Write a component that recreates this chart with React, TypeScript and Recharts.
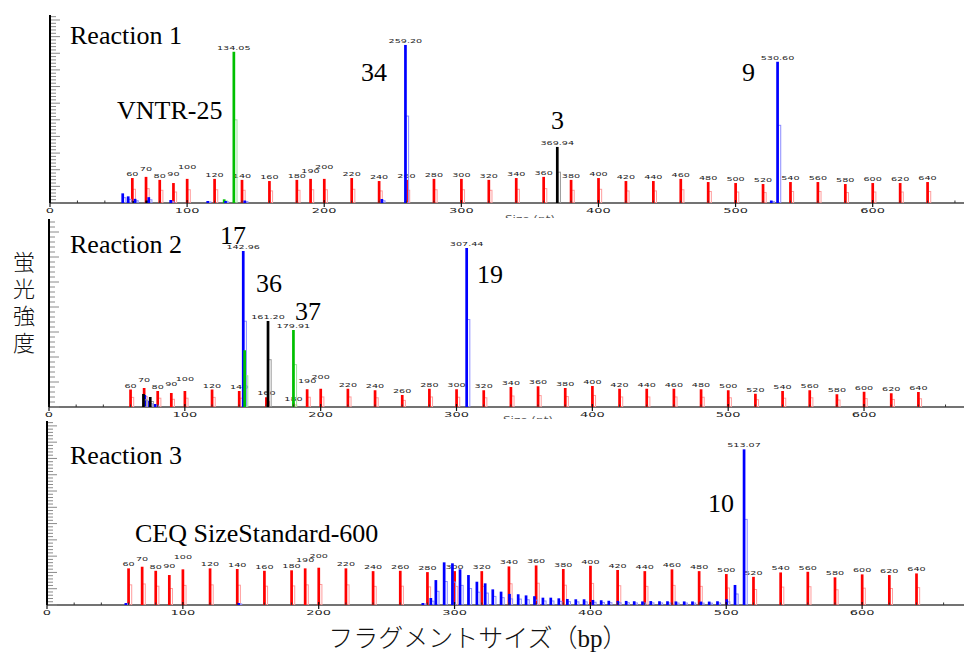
import React from 'react';
import { ScatterChart, Scatter, XAxis, YAxis } from 'recharts';

// ---- data ----
const SIZES = [60, 70, 80, 90, 100, 120, 140, 160, 180, 190, 200, 220, 240, 260, 280, 300, 320, 340, 360, 380, 400, 420, 440, 460, 480, 500, 520, 540, 560, 580, 600, 620, 640];
const X_TICKS = [0, 20, 40, 60, 80, 100, 120, 140, 160, 180, 200, 220, 240, 260, 280, 300, 320, 340, 360, 380, 400, 420, 440, 460, 480, 500, 520, 540, 560, 580, 600, 620, 640, 660];
const X_TICK_LABELS = [0, 100, 200, 300, 400, 500, 600];

// Reaction 1
const R1_RED = [15.0, 15.7, 13.9, 12.0, 14.5, 14.5, 13.9, 13.2, 13.9, 14.5, 14.5, 15.0, 13.2, 13.9, 14.5, 14.5, 13.9, 15.0, 15.7, 13.9, 15.0, 13.2, 13.2, 14.5, 12.6, 12.0, 11.4, 12.6, 12.6, 11.4, 12.0, 12.0, 12.6];
const R1_BLUE_X = [53, 57, 62, 72, 88, 115, 128, 142, 242, 259.2, 526, 530.6];
const R1_BLUE_Y = [5.8, 4.0, 2.5, 3.5, 1.8, 1.2, 1.2, 1.5, 2.4, 95.0, 1.5, 84.9];
const R1_BLUE_LABEL = ['', '', '', '', '', '', '', '', '', '259.20', '', '530.60'];
const R1_GREEN_X = [127, 134.05];
const R1_GREEN_Y = [2.2, 90.9];
const R1_GREEN_LABEL = ['', '134.05'];
const R1_BLACK_X = [61, 70.5, 369.94];
const R1_BLACK_Y = [1.2, 1.5, 33.7];
const R1_BLACK_LABEL = ['', '', '369.94'];

// Reaction 2
const R2_RED = [7.0, 7.6, 6.4, 5.6, 6.4, 7.0, 6.4, 3.9, 1.5, 7.1, 7.3, 7.3, 6.7, 4.8, 7.3, 7.1, 6.7, 8.0, 8.3, 7.6, 8.4, 7.3, 7.3, 7.3, 7.1, 6.7, 5.3, 6.4, 6.7, 5.1, 6.1, 5.5, 6.0];
const R2_BLUE_X = [70.5, 74, 78, 142.96, 307.44];
const R2_BLUE_Y = [4.8, 2.4, 1.2, 62.4, 63.6];
const R2_BLUE_LABEL = ['', '', '', '142.96', '307.44'];
const R2_GREEN_X = [144, 179.91];
const R2_GREEN_Y = [22.7, 30.8];
const R2_GREEN_LABEL = ['', '179.91'];
const R2_BLACK_X = [69.5, 74.5, 161.2];
const R2_BLACK_Y = [5.2, 4.0, 34.4];
const R2_BLACK_LABEL = ['', '', '161.20'];

// Reaction 3
const R3_RED = [22.5, 23.5, 21.0, 18.4, 21.9, 22.5, 22.1, 21.0, 21.3, 22.5, 22.9, 22.5, 20.8, 21.0, 20.2, 20.8, 20.8, 23.7, 24.3, 22.1, 24.1, 21.5, 20.8, 21.9, 20.8, 19.0, 17.3, 20.0, 20.4, 17.0, 18.8, 18.4, 19.4];
const R3_BLUE_X = [58, 141, 276.6, 282.5, 286.2, 292.3, 298.4, 304.0, 310.2, 316.4, 322.5, 328.1, 334.2, 340.4, 346.8, 352.6, 358.8, 365.0, 370.8, 376.7, 383.0, 389.2, 395.3, 401.8, 407.9, 413.5, 420.2, 426.3, 432.2, 438.3, 444.4, 450.8, 456.7, 462.9, 469.0, 475.1, 481.3, 487.4, 493.5, 500.3, 506.4, 513.07];
const R3_BLUE_Y = [1.2, 1.2, 1.2, 4.3, 15.3, 26.2, 25.6, 21.9, 18.4, 14.3, 13.3, 9.6, 8.2, 6.8, 6.6, 5.9, 5.4, 4.5, 4.5, 4.1, 3.7, 3.5, 3.5, 3.1, 2.9, 2.6, 2.5, 2.5, 2.3, 2.2, 2.4, 2.3, 2.3, 2.2, 2.2, 2.2, 2.1, 2.1, 2.3, 3.5, 12.3, 95.6];
const R3_BLUE_LABEL = R3_BLUE_X.map((x) => (x === 513.07 ? '513.07' : ''));

// label lifts for crowded size-standard labels (px)
const LABEL_LIFT: Record<number, number> = { 70: 4, 90: 5, 100: 8, 190: 4, 200: 8 };

type Pt = { x: number; y: number; label: string };
const zip = (xs: number[], ys: number[], labels?: string[]): Pt[] =>
  xs.map((x, i) => ({ x, y: ys[i], label: labels ? labels[i] : '' }));
const redPts = (ys: number[]): Pt[] => SIZES.map((s, i) => ({ x: s, y: ys[i], label: String(s) }));

const COLORS = {
  red: ['#ff0000', '#ff9d9d'],
  blue: ['#0000ff', '#8c8cff'],
  green: ['#00c000', '#9be39b'],
  black: ['#000000', '#9a9a9a'],
};

const WideText = ({ x, y, text, sx = 1.6, size = 6 }: { x: number; y: number; text: string; sx?: number; size?: number }) => (
  <text
    transform={`translate(${x},${y}) scale(${sx},1)`}
    textAnchor="middle"
    fontSize={size}
    fontFamily="DejaVu Sans"
    fill="#222"
  >
    {text}
  </text>
);

const peakShape = (base: number, color: string, light: string, isStd: boolean) => (props: any) => {
  const { cx, cy, payload } = props;
  if (typeof cx !== 'number' || typeof cy !== 'number') return <g />;
  const h = Math.max(base - cy, 0);
  const lift = isStd ? LABEL_LIFT[payload.x] || 0 : 0;
  return (
    <g>
      <rect x={cx + 0.6} y={cy + h * 0.45} width={2.6} height={h * 0.55} fill="none" stroke={light} strokeWidth={1} />
      <rect x={cx - 1.3} y={cy} width={2.7} height={h} fill={color} />
      {payload.label ? <WideText x={cx} y={cy - 2 - lift} text={payload.label} /> : null}
    </g>
  );
};

const XTick = (props: any) => {
  const { x, y, payload } = props;
  const v = payload.value;
  const major = X_TICK_LABELS.indexOf(v) >= 0;
  return (
    <g>
      {major ? (
        <line x1={x} x2={x} y1={y - 3} y2={y + 4} stroke="#111" strokeWidth={1.2} />
      ) : (
        <line x1={x} x2={x} y1={y - 2.5} y2={y} stroke="#333" strokeWidth={1} />
      )}
      {major ? <WideText x={x} y={y + 10} text={String(v)} sx={2} size={6.5} /> : null}
    </g>
  );
};

const YTick = (props: any) => {
  const { x, y, payload } = props;
  const major = payload.value % 10 === 0;
  return <line x1={x + 1} x2={x + (major ? 10 : 6)} y1={y} y2={y} stroke="#8a8a8a" strokeWidth={1} />;
};

type Series = { pts: Pt[]; color: keyof typeof COLORS; std?: boolean };

const Y_AXIS_W = 10;

const Panel = ({
  top, height, marginTop, left, xMax, yMax, xAxisHeight, series,
}: {
  top: number; height: number; marginTop: number; left: number; xMax: number; yMax: number; xAxisHeight: number; series: Series[];
}) => {
  const base = height - xAxisHeight;
  const yTicks = Array.from({ length: Math.floor(yMax / 2) + 1 }, (_, i) => i * 2);
  return (
    <div style={{ position: 'absolute', left: 0, top }}>
      <ScatterChart width={964} height={height} margin={{ top: marginTop, right: 0, bottom: 0, left: left - Y_AXIS_W }}>
        <XAxis
          type="number"
          dataKey="x"
          domain={[0, xMax]}
          allowDataOverflow
          ticks={X_TICKS}
          interval={0}
          tick={<XTick />}
          tickLine={false}
          tickSize={0}
          tickMargin={0}
          height={xAxisHeight}
          axisLine={{ stroke: '#444', strokeWidth: 1.3 }}
        />
        <YAxis
          type="number"
          dataKey="y"
          domain={[0, yMax]}
          allowDataOverflow
          ticks={yTicks}
          interval={0}
          tick={<YTick />}
          tickFormatter={() => ''}
          tickLine={false}
          tickSize={0}
          tickMargin={0}
          width={Y_AXIS_W}
          axisLine={{ stroke: '#000', strokeWidth: 2 }}
        />
        {series.map((s, i) => (
          <Scatter
            key={i}
            data={s.pts}
            isAnimationActive={false}
            shape={peakShape(base, COLORS[s.color][0], COLORS[s.color][1], !!s.std)}
          />
        ))}
      </ScatterChart>
    </div>
  );
};

const serif = "'Liberation Serif', 'Times New Roman', serif";
const jp = "'Liberation Serif', 'Noto Sans CJK JP', serif";
const Y_TITLE = ['蛍', '光', '強', '度'];

export default function App() {
  return (
    <div style={{ position: 'absolute', left: 0, top: 0, width: 964, height: 652, background: '#fff', overflow: 'hidden' }}>
      <Panel
        top={0} height={230} marginTop={15} left={50} xMax={666.6} yMax={113} xAxisHeight={27}
        series={[
          { pts: redPts(R1_RED), color: 'red', std: true },
          { pts: zip(R1_BLACK_X, R1_BLACK_Y, R1_BLACK_LABEL), color: 'black' },
          { pts: zip(R1_GREEN_X, R1_GREEN_Y, R1_GREEN_LABEL), color: 'green' },
          { pts: zip(R1_BLUE_X, R1_BLUE_Y, R1_BLUE_LABEL), color: 'blue' },
        ]}
      />
      <Panel
        top={200} height={230} marginTop={19} left={49} xMax={673.6} yMax={75.2} xAxisHeight={23}
        series={[
          { pts: redPts(R2_RED), color: 'red', std: true },
          { pts: zip(R2_BLUE_X, R2_BLUE_Y, R2_BLUE_LABEL), color: 'blue' },
          { pts: zip(R2_BLACK_X, R2_BLACK_Y, R2_BLACK_LABEL), color: 'black' },
          { pts: zip(R2_GREEN_X, R2_GREEN_Y, R2_GREEN_LABEL), color: 'green' },
        ]}
      />
      <Panel
        top={400} height={230} marginTop={21} left={47} xMax={675} yMax={113} xAxisHeight={25}
        series={[
          { pts: redPts(R3_RED), color: 'red', std: true },
          { pts: zip(R3_BLUE_X, R3_BLUE_Y, R3_BLUE_LABEL), color: 'blue' },
        ]}
      />
      <svg width={964} height={652} style={{ position: 'absolute', left: 0, top: 0, pointerEvents: 'none' }}>
        <defs>
          <clipPath id="cut1"><rect x={490} y={212} width={80} height={6} /></clipPath>
          <clipPath id="cut2"><rect x={490} y={413} width={80} height={6} /></clipPath>
        </defs>
        <g clipPath="url(#cut1)"><text x={530} y={222} textAnchor="middle" fontSize={8} fontFamily="DejaVu Sans" fill="#555" transform="translate(-265,0) scale(1.5,1)">Size (nt)</text></g>
        <g clipPath="url(#cut2)"><text x={528} y={423} textAnchor="middle" fontSize={8} fontFamily="DejaVu Sans" fill="#555" transform="translate(-264,0) scale(1.5,1)">Size (nt)</text></g>

        <g fontFamily={serif} fontSize={26} fill="#000">
          <text x={70} y={44}>Reaction 1</text>
          <text x={117} y={119}>VNTR-25</text>
          <text x={361} y={81}>34</text>
          <text x={551} y={129}>3</text>
          <text x={742} y={81}>9</text>

          <text x={70} y={253}>Reaction 2</text>
          <text x={220} y={244}>17</text>
          <text x={256} y={292}>36</text>
          <text x={295} y={320}>37</text>
          <text x={477} y={283}>19</text>

          <text x={70} y={464}>Reaction 3</text>
          <text x={135} y={542}>CEQ SizeStandard-600</text>
          <text x={708} y={512}>10</text>
        </g>
        <text fontFamily="'Noto Sans CJK JP', sans-serif" fontSize={22} fill="#111" textAnchor="middle" fontWeight={300}>
          {Y_TITLE.map((c, i) => (
            <tspan key={i} x={24} y={270 + i * 27}>{c}</tspan>
          ))}
        </text>
        <text x={478} y={647} textAnchor="middle" fontFamily={jp} fontSize={25} fontWeight={300} fill="#111">
          フラグメントサイズ（bp）
        </text>
      </svg>
    </div>
  );
}
